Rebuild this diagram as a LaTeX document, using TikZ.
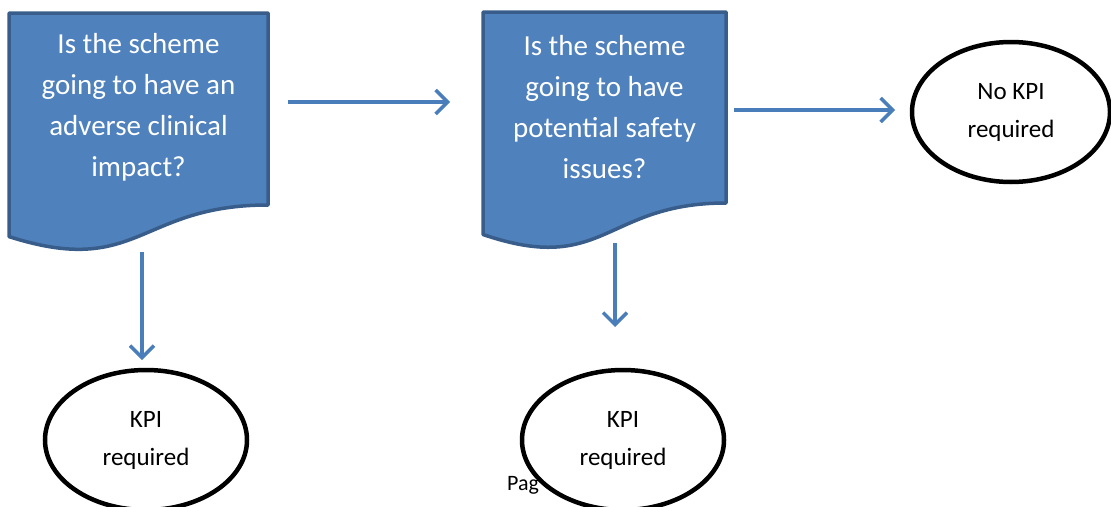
\documentclass[tikz,border=0pt]{standalone}
\usepackage{fontspec}
\setmainfont{Carlito}
\usetikzlibrary{arrows.meta,shapes.geometric}
\definecolor{docfill}{HTML}{4F81BD}
\definecolor{docborder}{HTML}{385D8A}
\definecolor{arrowblue}{HTML}{4A7EBB}
\tikzset{
  docshape/.style={fill=docfill, draw=docborder, line width=3.5pt, line join=round},
  doctext/.style={text=white, align=center, font=\fontsize{29}{41}\selectfont},
  terminal/.style={ellipse, draw=black, fill=white, line width=4.5pt, align=center, font=\fontsize{25}{38}\selectfont},
  flow/.style={draw=arrowblue, line width=3.5pt, -{Straight Barb[length=12pt,width=24pt,line width=3.5pt]}}
}
\begin{document}
\begin{tikzpicture}[x=1pt,y=-1pt]
\useasboundingbox (0,0) rectangle (1111,506);
% document shapes
\draw[docshape] (9,13) -- (268,13) -- (268,205) .. controls (138.5,205) and (138.5,278) .. (9,236.6) -- cycle;
\draw[docshape] (483,12) -- (726,12) -- (726,203) .. controls (604.5,203) and (604.5,276) .. (483,234.5) -- cycle;
\node[doctext] (q1) at (138.5,107) {Is the scheme\\going to have an\\adverse clinical\\impact?};
\node[doctext] (q2) at (604.5,107) {Is the scheme\\going to have\\potential safety\\issues?};
% page text (partly hidden)
\node[anchor=base west, font=\fontsize{22}{26}\selectfont, inner sep=0pt] (pg) at (507,490) {Pag};
% terminals
\node[terminal, minimum width=202pt, minimum height=140pt] (k1) at (146,440) {KPI\\required};
\node[terminal, minimum width=202pt, minimum height=140pt] (k2) at (623,440) {KPI\\required};
\node[terminal, minimum width=198pt, minimum height=140pt] (nk) at (1011,112) {No KPI\\required};
% connector anchors
\coordinate (a1s) at (288,102); \coordinate (a1e) at (450,102);
\coordinate (a2s) at (734,110); \coordinate (a2e) at (895,110);
\coordinate (d1s) at (142,252); \coordinate (d1e) at (142,360);
\coordinate (d2s) at (615,243); \coordinate (d2e) at (615,327);
\draw[flow] (a1s) -- (a1e);
\draw[flow] (a2s) -- (a2e);
\draw[flow] (d1s) -- (d1e);
\draw[flow] (d2s) -- (d2e);
\end{tikzpicture}
\end{document}
